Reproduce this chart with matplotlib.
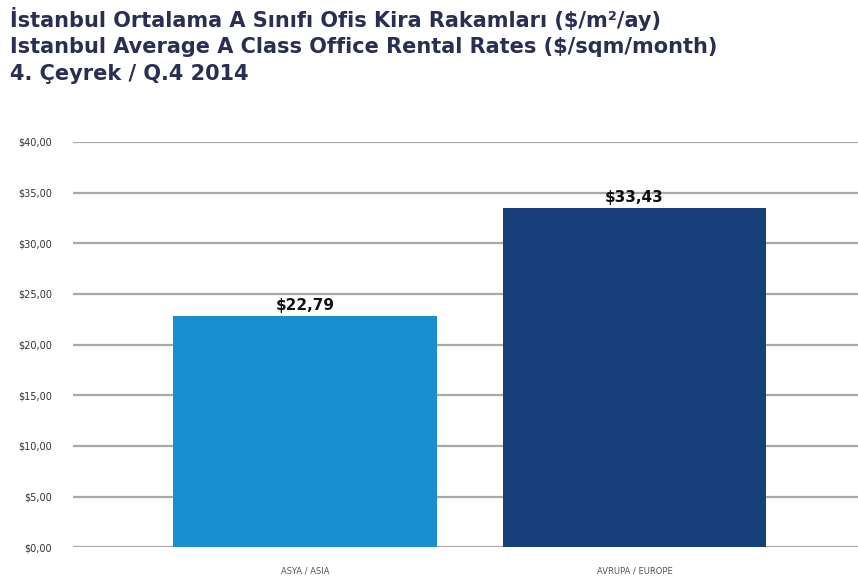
import matplotlib.pyplot as plt
from matplotlib.ticker import MultipleLocator, FuncFormatter

# data
regions = ['ASYA / ASIA', 'AVRUPA / EUROPE']
rents = [22.79, 33.43]
bar_colors = ['#1a8fd0', '#17407a']
title_lines = [
    'İstanbul Ortalama A Sınıfı Ofis Kira Rakamları ($/m²/ay)',
    'Istanbul Average A Class Office Rental Rates ($/sqm/month)',
    '4. Çeyrek / Q.4 2014',
]

def money(v):
    return '$' + f'{v:.2f}'.replace('.', ',')

fig = plt.figure(figsize=(8.58, 5.86), dpi=100)
ax = fig.add_axes([0.085, 0.066, 0.915, 0.692])

x = range(len(regions))
ax.bar(x, rents, width=0.8, color=bar_colors, zorder=3)
for xi, v in zip(x, rents):
    ax.text(xi, v + 0.3, money(v), ha='center', va='bottom', family='DejaVu Sans',
            fontsize=11, fontweight='bold', color='#111111', zorder=4)

ax.set_ylim(0, 40)
ax.set_xlim(-0.704, 1.678)
ax.yaxis.set_major_locator(MultipleLocator(5))
ax.yaxis.set_major_formatter(FuncFormatter(lambda v, p: money(v)))
ax.grid(axis='y', color='#a8a8a8', linewidth=1.6, zorder=0)
ax.set_axisbelow(True)
for s in ax.spines.values():
    s.set_visible(False)
ax.tick_params(axis='y', length=0, pad=15, labelsize=7, labelcolor='#333333')
ax.tick_params(axis='x', length=0, pad=14, labelsize=6, labelcolor='#555555')
ax.set_xticks(list(x))
ax.set_xticklabels(regions)

ys = [0.968, 0.920, 0.874]
for t, yy in zip(title_lines, ys):
    fig.text(0.012, yy, t, ha='left', va='center', fontsize=15,
             fontweight='bold', family='DejaVu Sans', color='#2a2f52')

fig.savefig('out.png', dpi=100)
